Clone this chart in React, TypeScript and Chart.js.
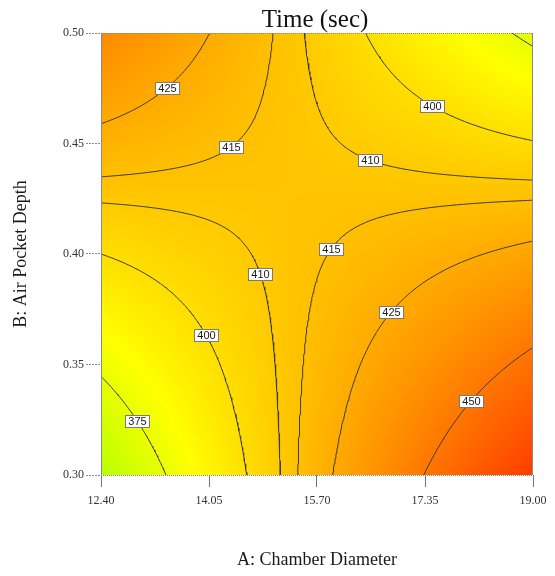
import React, { useEffect, useRef } from 'react';
import { Chart, registerables } from 'chart.js';

Chart.register(...registerables);

// ---- text ----
const chartTitle = 'Time (sec)';
const xAxisTitle = 'A: Chamber Diameter';
const yAxisTitle = 'B: Air Pocket Depth';

// ---- axes ----
const xTicks = [12.4, 14.05, 15.7, 17.35, 19.0];
const yTicks = [0.3, 0.35, 0.4, 0.45, 0.5];

// ---- contour levels drawn on the plot ----
const contourLevels = [375, 400, 410, 415, 425, 450];

// ---- fitted response surface for (Time)^2, coded units: A = 15.70 ± 3.30, B = 0.40 ± 0.10 ----
const factorCenters = [15.7, 0.4];
const factorHalfRanges = [3.3, 0.1];
const responsePower = 2;
const interceptCoef = 171643;
const linearCoefs = [11636, -5219];
const interactionCoef = -40200;

// ---- colour ramp (response value -> rgb) ----
const colorStopValues = [273.5, 384.4, 507];
const colorStopColors = [
  [0, 255, 0],
  [255, 255, 0],
  [255, 0, 0],
];

const SERIF = '"Liberation Serif", "Times New Roman", serif';
const SANS = '"Liberation Sans", Arial, sans-serif';

function timeAt(A: number, B: number): number {
  const a = (A - factorCenters[0]) / factorHalfRanges[0];
  const b = (B - factorCenters[1]) / factorHalfRanges[1];
  const transformed =
    interceptCoef + linearCoefs[0] * a + linearCoefs[1] * b + interactionCoef * a * b;
  return Math.pow(Math.max(transformed, 0), 1 / responsePower);
}

function colorFor(T: number): number[] {
  if (T <= colorStopValues[0]) return colorStopColors[0];
  for (let k = 0; k < colorStopValues.length - 1; k++) {
    const v0 = colorStopValues[k];
    const v1 = colorStopValues[k + 1];
    if (T <= v1) {
      const t = (T - v0) / (v1 - v0);
      const c0 = colorStopColors[k];
      const c1 = colorStopColors[k + 1];
      return [0, 1, 2].map((i) => c0[i] + (c1[i] - c0[i]) * t);
    }
  }
  return colorStopColors[colorStopColors.length - 1];
}

type P = { x: number; y: number };

function traceContours(level: number, n: number): P[][] {
  const x0 = xTicks[0];
  const x1 = xTicks[xTicks.length - 1];
  const y0 = yTicks[0];
  const y1 = yTicks[yTicks.length - 1];
  const xs: number[] = [];
  const ys: number[] = [];
  for (let i = 0; i <= n; i++) xs.push(x0 + ((x1 - x0) * i) / n);
  for (let j = 0; j <= n; j++) ys.push(y0 + ((y1 - y0) * j) / n);
  const grid: number[][] = xs.map((x) => ys.map((y) => timeAt(x, y) - level));
  const v = (i: number, j: number) => grid[i][j];
  const pts = new Map<string, P>();
  const adj = new Map<string, string[]>();
  const edgePoint = (key: string, i1: number, j1: number, i2: number, j2: number) => {
    if (!pts.has(key)) {
      const f1 = v(i1, j1);
      const f2 = v(i2, j2);
      const t = f1 / (f1 - f2);
      pts.set(key, {
        x: xs[i1] + t * (xs[i2] - xs[i1]),
        y: ys[j1] + t * (ys[j2] - ys[j1]),
      });
    }
    return key;
  };
  const link = (a: string, b: string) => {
    if (!adj.has(a)) adj.set(a, []);
    if (!adj.has(b)) adj.set(b, []);
    adj.get(a)!.push(b);
    adj.get(b)!.push(a);
  };
  for (let i = 0; i < n; i++) {
    for (let j = 0; j < n; j++) {
      const s00 = v(i, j) >= 0;
      const s10 = v(i + 1, j) >= 0;
      const s11 = v(i + 1, j + 1) >= 0;
      const s01 = v(i, j + 1) >= 0;
      const cr: (string | null)[] = [
        s00 !== s10 ? edgePoint(`h${i},${j}`, i, j, i + 1, j) : null,
        s10 !== s11 ? edgePoint(`v${i + 1},${j}`, i + 1, j, i + 1, j + 1) : null,
        s01 !== s11 ? edgePoint(`h${i},${j + 1}`, i, j + 1, i + 1, j + 1) : null,
        s00 !== s01 ? edgePoint(`v${i},${j}`, i, j, i, j + 1) : null,
      ];
      const c = cr.filter((k) => k !== null) as string[];
      if (c.length === 2) link(c[0], c[1]);
      else if (c.length === 4) {
        const center = (v(i, j) + v(i + 1, j) + v(i + 1, j + 1) + v(i, j + 1)) / 4 >= 0;
        if (center === s00) {
          link(cr[0]!, cr[1]!);
          link(cr[2]!, cr[3]!);
        } else {
          link(cr[3]!, cr[0]!);
          link(cr[1]!, cr[2]!);
        }
      }
    }
  }
  const used = new Set<string>();
  const lines: P[][] = [];
  const walk = (start: string) => {
    const line: P[] = [];
    let prev: string | null = null;
    let cur: string | undefined = start;
    while (cur !== undefined && !used.has(cur)) {
      used.add(cur);
      line.push(pts.get(cur)!);
      const here: string = cur;
      const nb: string | undefined = adj.get(here)!.find((m) => m !== prev && !used.has(m));
      prev = here;
      cur = nb;
    }
    return line;
  };
  for (const [k, nb] of adj) if (nb.length === 1 && !used.has(k)) lines.push(walk(k));
  for (const k of adj.keys()) if (!used.has(k)) lines.push(walk(k));
  return lines;
}

const heatmapPlugin = {
  id: 'heatmap',
  beforeDatasetsDraw(chart: any) {
    const { ctx, chartArea: ca, scales } = chart;
    const w = Math.round(ca.right - ca.left);
    const h = Math.round(ca.bottom - ca.top);
    const off = document.createElement('canvas');
    off.width = w;
    off.height = h;
    const octx = off.getContext('2d')!;
    const img = octx.createImageData(w, h);
    for (let py = 0; py < h; py++) {
      const B = scales.y.getValueForPixel(ca.top + py + 0.5);
      for (let px = 0; px < w; px++) {
        const A = scales.x.getValueForPixel(ca.left + px + 0.5);
        const c = colorFor(timeAt(A, B));
        const o = (py * w + px) * 4;
        img.data[o] = c[0];
        img.data[o + 1] = c[1];
        img.data[o + 2] = c[2];
        img.data[o + 3] = 255;
      }
    }
    octx.putImageData(img, 0, 0);
    ctx.save();
    ctx.drawImage(off, ca.left, ca.top);
    ctx.restore();
  },
  afterDatasetsDraw(chart: any) {
    const { ctx, chartArea: ca } = chart;
    ctx.save();
    ctx.lineWidth = 1;
    ctx.strokeStyle = '#8a8a8a';
    ctx.beginPath();
    ctx.moveTo(ca.left + 0.5, ca.top);
    ctx.lineTo(ca.left + 0.5, ca.bottom);
    ctx.moveTo(ca.right - 0.5, ca.top);
    ctx.lineTo(ca.right - 0.5, ca.bottom);
    ctx.stroke();
    ctx.setLineDash([1, 1]);
    ctx.beginPath();
    ctx.moveTo(ca.left, ca.top + 0.5);
    ctx.lineTo(ca.right, ca.top + 0.5);
    ctx.moveTo(ca.left, ca.bottom + 0.5);
    ctx.lineTo(ca.right, ca.bottom + 0.5);
    ctx.stroke();
    ctx.restore();
  },
};

const labelPlugin = {
  id: 'contourLabels',
  afterDatasetsDraw(chart: any) {
    const { ctx, scales } = chart;
    ctx.save();
    ctx.font = `11px ${SANS}`;
    ctx.textAlign = 'center';
    ctx.textBaseline = 'middle';
    chart.data.datasets.forEach((ds: any) => {
      if (ds.level === undefined) return;
      let pts = (ds.data as P[]).map((p) => [
        scales.x.getPixelForValue(p.x),
        scales.y.getPixelForValue(p.y),
      ]);
      if (pts.length < 2) return;
      // walk from the upper end of the line
      if (pts[pts.length - 1][1] < pts[0][1]) pts = pts.slice().reverse();
      const lens: number[] = [];
      let total = 0;
      for (let i = 1; i < pts.length; i++) {
        const l = Math.hypot(pts[i][0] - pts[i - 1][0], pts[i][1] - pts[i - 1][1]);
        lens.push(l);
        total += l;
      }
      if (total < 60) return;
      let target = total * 0.48;
      let mx = pts[0][0];
      let my = pts[0][1];
      for (let i = 0; i < lens.length; i++) {
        if (target <= lens[i]) {
          const t = lens[i] > 0 ? target / lens[i] : 0;
          mx = pts[i][0] + (pts[i + 1][0] - pts[i][0]) * t;
          my = pts[i][1] + (pts[i + 1][1] - pts[i][1]) * t;
          break;
        }
        target -= lens[i];
      }
      const text = String(ds.level);
      const tw = ctx.measureText(text).width;
      const bw = Math.round(tw + 6);
      const bh = 12;
      const bx = Math.round(mx - bw / 2) + 0.5;
      const by = Math.round(my - bh / 2) + 0.5;
      ctx.fillStyle = '#ffffff';
      ctx.fillRect(bx, by, bw, bh);
      ctx.strokeStyle = '#7a7a7a';
      ctx.lineWidth = 1;
      ctx.strokeRect(bx, by, bw, bh);
      ctx.fillStyle = '#1a1a1a';
      ctx.fillText(text, bx + bw / 2, by + bh / 2 + 0.5);
    });
    ctx.restore();
  },
};

const titlePlugin = {
  id: 'plotTitle',
  afterDraw(chart: any) {
    const { ctx, chartArea: ca } = chart;
    ctx.save();
    ctx.font = `25px ${SERIF}`;
    ctx.fillStyle = '#111111';
    ctx.textAlign = 'center';
    ctx.textBaseline = 'alphabetic';
    ctx.fillText(chartTitle, (ca.left + ca.right) / 2 - 2, 27);
    ctx.restore();
  },
};

export default function App() {
  const canvasRef = useRef<HTMLCanvasElement | null>(null);

  useEffect(() => {
    if (!canvasRef.current) return;
    const datasets: any[] = [];
    contourLevels.forEach((level) => {
      traceContours(level, 160).forEach((line) => {
        datasets.push({
          label: String(level),
          level,
          data: line,
          showLine: true,
          pointRadius: 0,
          pointHoverRadius: 0,
          borderColor: '#3a3a3a',
          borderWidth: 1,
          tension: 0,
          fill: false,
        });
      });
    });

    const chart = new Chart(canvasRef.current, {
      type: 'scatter',
      data: { datasets },
      plugins: [heatmapPlugin, labelPlugin, titlePlugin],
      options: {
        animation: false,
        responsive: true,
        maintainAspectRatio: false,
        devicePixelRatio: 1,
        layout: { padding: { top: 33, right: 22, left: 0, bottom: 0 } },
        plugins: {
          legend: { display: false },
          tooltip: { enabled: false },
          title: { display: false },
        },
        scales: {
          x: {
            type: 'linear',
            min: xTicks[0],
            max: xTicks[xTicks.length - 1],
            afterBuildTicks: (s: any) => {
              s.ticks = xTicks.map((v) => ({ value: v }));
            },
            afterFit: (s: any) => {
              s.height = 101;
              s.paddingLeft = 0;
              s.paddingRight = 0;
            },
            ticks: {
              callback: (v: any) => Number(v).toFixed(2),
              font: { family: SERIF, size: 12 },
              color: '#333333',
              padding: 7,
              maxRotation: 0,
              autoSkip: false,
            },
            grid: {
              drawOnChartArea: false,
              tickLength: 12,
              tickColor: '#777777',
              tickWidth: 1,
            },
            border: { display: false },
            title: {
              display: true,
              text: xAxisTitle,
              font: { family: SERIF, size: 18 },
              color: '#1a1a1a',
              padding: { top: 0, bottom: 5 },
            },
          },
          y: {
            type: 'linear',
            min: yTicks[0],
            max: yTicks[yTicks.length - 1],
            afterBuildTicks: (s: any) => {
              s.ticks = yTicks.map((v) => ({ value: v }));
            },
            afterFit: (s: any) => {
              s.width = 101;
              s.paddingTop = 0;
              s.paddingBottom = 0;
            },
            ticks: {
              callback: (v: any) => Number(v).toFixed(2),
              font: { family: SERIF, size: 12 },
              color: '#333333',
              padding: 2,
              autoSkip: false,
            },
            grid: {
              drawOnChartArea: false,
              tickLength: 15,
              tickColor: '#8a8a8a',
              tickWidth: 1,
              tickBorderDash: [2, 1],
            },
            border: { display: false },
            title: {
              display: true,
              text: yAxisTitle,
              font: { family: SERIF, size: 18 },
              color: '#1a1a1a',
              padding: { top: 10, bottom: 0 },
            },
          },
        },
      } as any,
    });
    return () => chart.destroy();
  }, []);

  return (
    <div style={{ position: 'absolute', left: 0, top: 0, width: 555, height: 576, background: '#fff' }}>
      <canvas ref={canvasRef} />
    </div>
  );
}
